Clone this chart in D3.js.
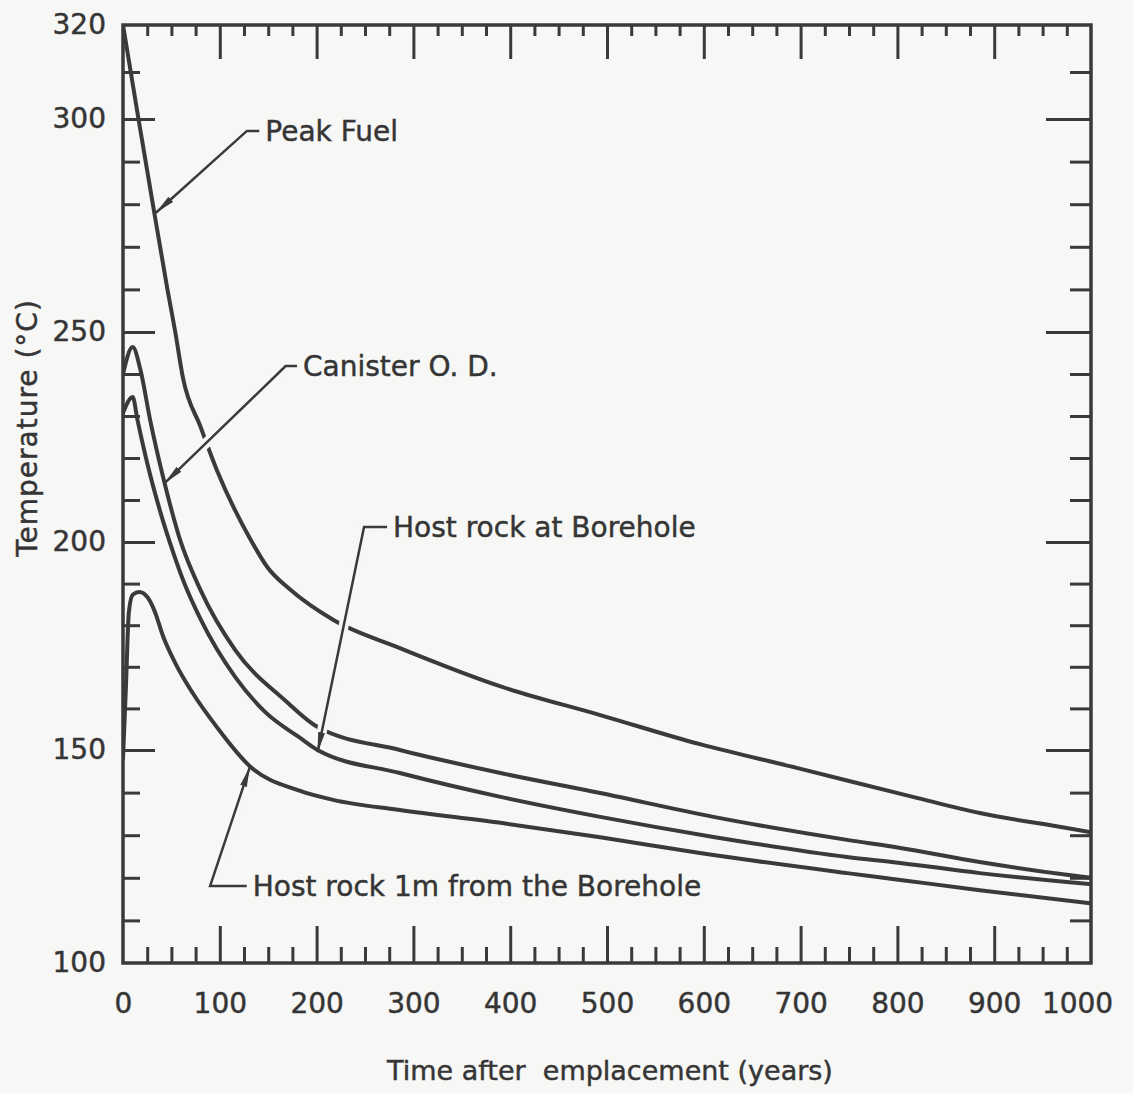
<!DOCTYPE html>
<html>
<head>
<meta charset="utf-8">
<script src="https://cdn.jsdelivr.net/npm/d3@7"></script>
<style>
  body { margin: 0; background: #f7f7f5; }
  svg { display: block; }
  text { font-family: "DejaVu Sans", sans-serif; fill: #353535; stroke: #353535; stroke-width: 0.45px; }
</style>
</head>
<body>
<div id="chart"></div>
<script>
// values (years, degrees C)
var peakFuelYears = [0, 16, 31, 46, 54, 62, 80, 97, 131, 149, 173, 217, 286, 390, 493, 596, 696, 816, 885, 975, 1000];
var peakFuelTemps = [320, 300, 279.8, 259.9, 250, 239, 227.5, 217.1, 200.9, 194, 188.5, 181.3, 174.5, 165.3, 158.4, 151.4, 145.8, 139, 135.2, 131.7, 130.7];

var canisterYears = [0, 10, 18, 28, 43, 59, 80, 116, 167, 201, 286, 390, 493, 610, 748, 803, 885, 975, 1000];
var canisterTemps = [240, 246.4, 241, 229.1, 214, 200.5, 188.5, 174, 162, 155.5, 150, 144.6, 139.9, 134.3, 128.9, 127, 123.7, 120.7, 120];

var boreholeYears = [0, 10, 15, 25, 38, 52, 64, 80, 116, 147, 183, 201, 286, 390, 493, 610, 748, 803, 885, 975, 1000];
var boreholeTemps = [230.7, 234.5, 229, 218.8, 207.6, 197.4, 189.7, 181.5, 167.5, 159.1, 152.9, 150, 144.6, 139, 134.3, 129.6, 124.9, 123.5, 121.1, 119, 118.5];

var oneMeterYears = [0, 3, 6, 10, 17, 26, 33, 41, 54, 72, 97, 131, 183, 217, 286, 390, 493, 596, 748, 803, 885, 1000];
var oneMeterTemps = [148, 165, 183, 187.3, 188, 186.5, 183.2, 177.6, 170.9, 163.7, 155.5, 146.2, 140.4, 138.3, 135.9, 132.9, 129.5, 125.8, 121.1, 119.5, 117.1, 114];

var seriesNames = ["Peak Fuel", "Canister O. D.", "Host rock at Borehole", "Host rock 1m from the Borehole"];

// callouts: where the arrow lands, where the leader bends, where the text starts
var tipYears = [34, 43, 201, 131];
var tipTemps = [278, 214, 149.5, 146];
var elbowYears = [128, 168, 249, 90];
var elbowTemps = [297.2, 241.9, 203.6, 118.1];
var labelYears = [147, 186, 279, 134];

var xTicks = [0, 100, 200, 300, 400, 500, 600, 700, 800, 900, 1000];
var yTicks = [100, 150, 200, 250, 300, 320];

var width = 1133, height = 1093;
var margin = { top: 25, right: 42, bottom: 130, left: 123 };
var ink = "#3a3a3a", paper = "#f7f7f5";

var x = d3.scaleLinear().domain([0, 1000]).range([margin.left, width - margin.right]);
// the printed temperature axis is not quite uniform, so map each labelled value
var yStops = [height - margin.bottom, 750, 542, 332, 119, margin.top];
var y = d3.scaleLinear().domain(yTicks).range(yStops);

var svg = d3.select("#chart").append("svg")
    .attr("width", width)
    .attr("height", height)
    .style("background", paper);

var defs = svg.append("defs");
defs.append("clipPath").attr("id", "plot")
  .append("rect")
    .attr("x", x(0)).attr("y", y(320))
    .attr("width", x(1000) - x(0)).attr("height", y(100) - y(320));
defs.append("marker")
    .attr("id", "arrow")
    .attr("viewBox", "0 0 20 8")
    .attr("refX", 20).attr("refY", 4)
    .attr("markerWidth", 20).attr("markerHeight", 8)
    .attr("markerUnits", "userSpaceOnUse")
    .attr("orient", "auto")
  .append("path")
    .attr("d", "M0,0.5 L20,4 L0,7.5 Z")
    .attr("fill", ink);

var xMinor = d3.range(25, 1000, 25).filter(function (d) { return d % 100 !== 0; });
var yMinor = d3.range(110, 320, 10).filter(function (d) { return d % 50 !== 0; });
var xMajor = xTicks.slice(1, -1);
var yMajor = yTicks.slice(1, -1);

function styleAxis(g) {
  g.select(".domain").remove();
  g.selectAll(".tick line").attr("stroke", ink).attr("stroke-width", 3);
  g.selectAll(".tick text").attr("font-size", 28).style("fill", "#353535");
}

// bottom: labels plus long ticks every 100, short every 25
svg.append("g")
    .attr("transform", "translate(0," + y(100) + ")")
    .call(d3.axisBottom(x).tickValues(xTicks).tickFormat(d3.format("d")).tickSize(-37).tickPadding(30))
    .call(styleAxis)
    .call(function (g) {
      g.selectAll(".tick text").attr("dx", function (d) { return d === 1000 ? -14 : 0; });
      g.selectAll(".tick line").filter(function (d) { return d === 0 || d === 1000; }).remove();
    });
svg.append("g")
    .attr("transform", "translate(0," + y(100) + ")")
    .call(d3.axisBottom(x).tickValues(xMinor).tickSize(-16).tickFormat(""))
    .call(styleAxis);

// top
svg.append("g")
    .attr("transform", "translate(0," + y(320) + ")")
    .call(d3.axisTop(x).tickValues(xMajor).tickSize(-34).tickFormat(""))
    .call(styleAxis);
svg.append("g")
    .attr("transform", "translate(0," + y(320) + ")")
    .call(d3.axisTop(x).tickValues(xMinor).tickSize(-11).tickFormat(""))
    .call(styleAxis);

// left
svg.append("g")
    .attr("transform", "translate(" + x(0) + ",0)")
    .call(d3.axisLeft(y).tickValues(yTicks).tickSize(-32).tickPadding(17))
    .call(styleAxis)
    .call(function (g) {
      g.selectAll(".tick line").filter(function (d) { return d === 100 || d === 320; }).remove();
    });
svg.append("g")
    .attr("transform", "translate(" + x(0) + ",0)")
    .call(d3.axisLeft(y).tickValues(yMinor.concat([310])).tickSize(-17).tickFormat(""))
    .call(styleAxis);

// right
svg.append("g")
    .attr("transform", "translate(" + x(1000) + ",0)")
    .call(d3.axisRight(y).tickValues(yMajor).tickSize(-45).tickFormat(""))
    .call(styleAxis);
svg.append("g")
    .attr("transform", "translate(" + x(1000) + ",0)")
    .call(d3.axisRight(y).tickValues(yMinor.concat([310])).tickSize(-21).tickFormat(""))
    .call(styleAxis);

// frame
svg.append("rect")
    .attr("x", x(0)).attr("y", y(320))
    .attr("width", x(1000) - x(0)).attr("height", y(100) - y(320))
    .attr("fill", "none")
    .attr("stroke", ink)
    .attr("stroke-width", 3.5);

// curves
var series = [
  { name: seriesNames[0], years: peakFuelYears, temps: peakFuelTemps },
  { name: seriesNames[1], years: canisterYears, temps: canisterTemps },
  { name: seriesNames[2], years: boreholeYears, temps: boreholeTemps },
  { name: seriesNames[3], years: oneMeterYears, temps: oneMeterTemps }
];

var line = d3.line()
    .curve(d3.curveMonotoneX)
    .x(function (d) { return x(d[0]); })
    .y(function (d) { return y(d[1]); });

svg.append("g")
    .attr("clip-path", "url(#plot)")
  .selectAll("path")
  .data(series)
  .enter().append("path")
    .attr("d", function (s) { return line(d3.zip(s.years, s.temps)); })
    .attr("fill", "none")
    .attr("stroke", ink)
    .attr("stroke-width", 4)
    .attr("stroke-linejoin", "round")
    .attr("stroke-linecap", "round");

// callouts
var callouts = seriesNames.map(function (name, i) {
  var tip = [x(tipYears[i]), y(tipTemps[i])];
  var elbow = [x(elbowYears[i]), y(elbowTemps[i])];
  var textX = x(labelYears[i]);
  return { name: name, tip: tip, elbow: elbow, start: [textX - 6, elbow[1]], textX: textX };
});

var notes = svg.append("g");

// white gap where a leader crosses another curve, stopping short of the tip
notes.selectAll("path.halo")
  .data(callouts)
  .enter().append("path")
    .attr("class", "halo")
    .attr("d", function (c) {
      var dx = c.tip[0] - c.elbow[0], dy = c.tip[1] - c.elbow[1];
      var len = Math.sqrt(dx * dx + dy * dy);
      var end = [c.tip[0] - dx / len * 16, c.tip[1] - dy / len * 16];
      return d3.line()([c.elbow, end]);
    })
    .attr("fill", "none")
    .attr("stroke", paper)
    .attr("stroke-width", 10);

notes.selectAll("path.leader")
  .data(callouts)
  .enter().append("path")
    .attr("class", "leader")
    .attr("d", function (c) { return d3.line()([c.start, c.elbow, c.tip]); })
    .attr("fill", "none")
    .attr("stroke", ink)
    .attr("stroke-width", 2.5)
    .attr("marker-end", "url(#arrow)");

notes.selectAll("text")
  .data(callouts)
  .enter().append("text")
    .attr("x", function (c) { return c.textX; })
    .attr("y", function (c) { return c.elbow[1]; })
    .attr("dy", "0.36em")
    .attr("font-size", 28)
    .text(function (c) { return c.name; });

// axis titles
svg.append("text")
    .attr("x", (x(0) + x(1000)) / 2 + 3)
    .attr("y", 1080)
    .attr("text-anchor", "middle")
    .attr("font-size", 27)
    .style("white-space", "pre")
    .text("Time after  emplacement (years)");

svg.append("text")
    .attr("transform", "translate(37," + 428 + ") rotate(-90)")
    .attr("text-anchor", "middle")
    .attr("font-size", 28)
    .attr("letter-spacing", 1)
    .text("Temperature (°C)");
</script>
</body>
</html>
